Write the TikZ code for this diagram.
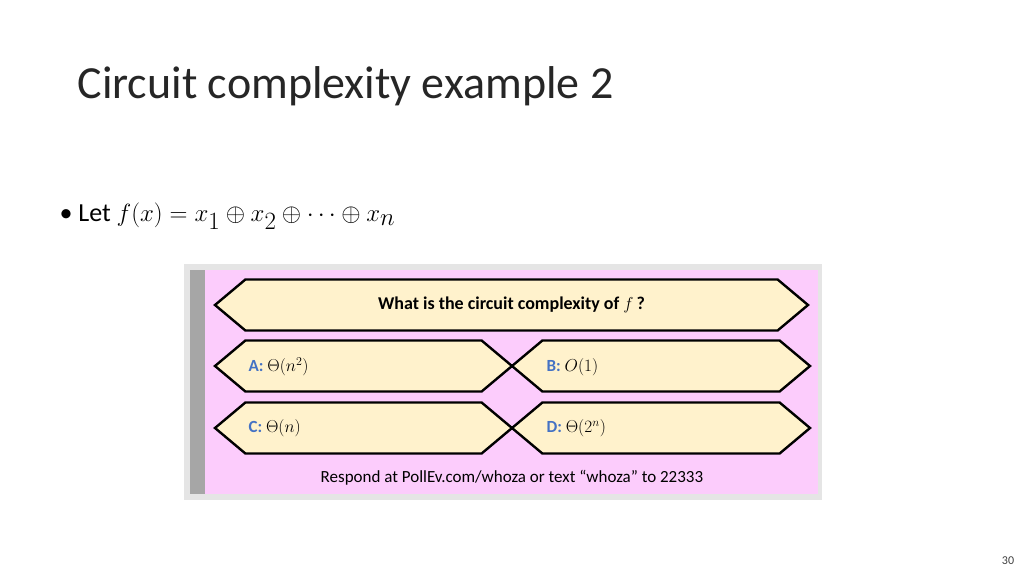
\documentclass[tikz,border=0pt]{standalone}
\usepackage{fontspec}
\usepackage{amsmath}
\setmainfont{Carlito}
\usetikzlibrary{shapes.symbols}
\definecolor{panelpink}{RGB}{252,204,252}
\definecolor{answercream}{RGB}{255,242,204}
\definecolor{letterblue}{RGB}{68,114,196}
\tikzset{
  answerbox/.style={shape=signal, signal to=west and east, signal pointer angle=80,
    draw=black, line width=2.4pt, fill=answercream, minimum height=51pt, inner sep=0pt},
  answertext/.style={anchor=west, font=\fontsize{17}{20}\selectfont}
}
\begin{document}
\begin{tikzpicture}[x=1pt,y=-1pt]
    \useasboundingbox[fill=white] (0,0) rectangle (1024,576);

    % Title and bullet
    \node[anchor=west, font=\fontsize{46}{50}\selectfont, text=black!85] (title) at (74,86) {Circuit complexity example 2};
    \node[anchor=west, font=\fontsize{26}{30}\selectfont] (bullet) at (56,216)
        {\textbullet\ Let \fontsize{34}{38}\selectfont $f(x) = x_1 \oplus x_2 \oplus \cdots \oplus x_n$};

    % Poll panel with shadow
    \fill[black!10] (184,264) rectangle (822,500);
    \fill[black!35] (190,270) rectangle (205,494);
    \fill[panelpink] (205,270) rectangle (818,494);

    % Question and answers
    \node[answerbox, minimum width=593pt, font=\fontsize{18}{21}\selectfont\bfseries] (question) at (511.5,305)
        {What is the circuit complexity of $f$\,?};
    \node[answerbox, minimum width=297pt] (ansA) at (363.5,366) {};
    \node[answerbox, minimum width=298pt] (ansB) at (661,366) {};
    \node[answerbox, minimum width=297pt] (ansC) at (363.5,428) {};
    \node[answerbox, minimum width=298pt] (ansD) at (661,428) {};
    \node[answertext] (textA) at (245,367) {\textcolor{letterblue}{\bfseries A:} $\Theta(n^2)$};
    \node[answertext] (textB) at (543,367) {\textcolor{letterblue}{\bfseries B:} $O(1)$};
    \node[answertext] (textC) at (245,428) {\textcolor{letterblue}{\bfseries C:} $\Theta(n)$};
    \node[answertext] (textD) at (543,428) {\textcolor{letterblue}{\bfseries D:} $\Theta(2^n)$};

    % Response line
    \node[font=\fontsize{17}{20}\selectfont] (respond) at (512,478) {Respond at PollEv.com/whoza or text “whoza” to 22333};

    % Page number
    \node[font=\fontsize{12}{14}\selectfont, text=black!75] (page) at (1008,561) {30};
\end{tikzpicture}
\end{document}
